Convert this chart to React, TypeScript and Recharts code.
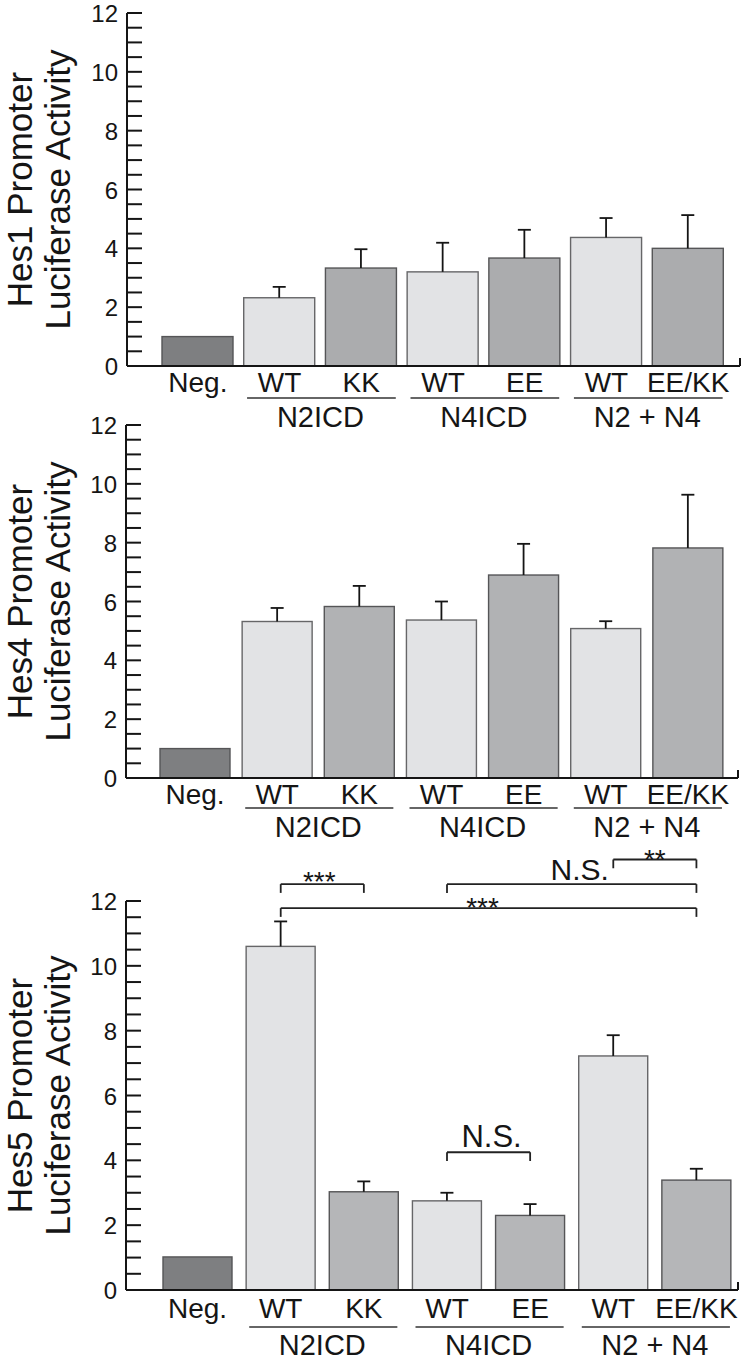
import { BarChart, Bar, XAxis, YAxis, Cell, ReferenceLine } from 'recharts'

// categories shared by all three promoter panels
const CATEGORIES = ['neg', 'n2wt', 'n2kk', 'n4wt', 'n4ee', 'n24wt', 'n24eekk']
const TICK_LABELS = ['Neg.', 'WT', 'KK', 'WT', 'EE', 'WT', 'EE/KK']
const KINDS = ['neg', 'wt', 'mut', 'wt', 'mut', 'wt', 'mut']
const GROUP_LABELS = ['N2ICD', 'N4ICD', 'N2 + N4']
const GROUP_FIRST = [1, 3, 5]
const Y_TICKS = [0, 0.5, 1, 1.5, 2, 2.5, 3, 3.5, 4, 4.5, 5, 5.5, 6, 6.5, 7, 7.5, 8, 8.5, 9, 9.5, 10, 10.5, 11, 11.5, 12]

const HES1_MEAN = [1, 2.32, 3.33, 3.2, 3.67, 4.37, 4.0]
const HES1_ERR = [0, 0.37, 0.64, 0.99, 0.96, 0.66, 1.13]

const HES4_MEAN = [1, 5.32, 5.83, 5.37, 6.9, 5.08, 7.82]
const HES4_ERR = [0, 0.46, 0.7, 0.63, 1.06, 0.25, 1.81]

const HES5_MEAN = [1.02, 10.6, 3.03, 2.75, 2.3, 7.22, 3.39]
const HES5_ERR = [0, 0.77, 0.32, 0.25, 0.35, 0.64, 0.35]

// significance brackets on the Hes5 panel
const HES5_BRACKET_FROM = ['n2wt', 'n2wt', 'n4wt', 'n24wt', 'n4wt']
const HES5_BRACKET_TO = ['n2kk', 'n24eekk', 'n24eekk', 'n24eekk', 'n4ee']
const HES5_BRACKET_Y = [12.52, 11.78, 12.52, 13.28, 4.25]
const HES5_BRACKET_TEXT = ['***', '***', 'N.S.', '**', 'N.S.']

const BRACKET_LABEL_STYLE = [
  { dx: -3, dy: 7, size: 28 },
  { dx: -6, dy: 9, size: 28 },
  { dx: 8, dy: -4, size: 30 },
  { dx: 0, dy: 9, size: 28 },
  { dx: 3, dy: -5, size: 31 },
]
const BRACKET_DROP = 0.27

const CHART_W = 742
const INK = '#151515'
const FONT = '"Liberation Sans", Arial, Helvetica, sans-serif'

type Panel = {
  id: string
  top: number
  height: number
  marginTop: number
  marginRight: number
  yAxisWidth: number
  padLeft: number
  padRight: number
  barSize: number
  xAxisHeight: number
  labelDy: number
  underDy: number
  groupDy: number
  mutFill: string
  yTitle: string[]
  means: number[]
  errs: number[]
  brackets: boolean
}

const PANELS: Panel[] = [
  {
    id: 'hes1', top: 0, height: 440, marginTop: 13, marginRight: 2, yAxisWidth: 127,
    padLeft: 30, padRight: 11, barSize: 71, xAxisHeight: 74,
    labelDy: 16, underDy: 32, groupDy: 51, mutFill: '#abacae',
    yTitle: ['Hes1 Promoter', 'Luciferase Activity'], means: HES1_MEAN, errs: HES1_ERR, brackets: false,
  },
  {
    id: 'hes4', top: 400, height: 442, marginTop: 25, marginRight: 4, yAxisWidth: 126,
    padLeft: 28, padRight: 9, barSize: 70, xAxisHeight: 64,
    labelDy: 16, underDy: 30, groupDy: 49, mutFill: '#b1b2b4',
    yTitle: ['Hes4 Promoter', 'Luciferase Activity'], means: HES4_MEAN, errs: HES4_ERR, brackets: false,
  },
  {
    id: 'hes5', top: 835, height: 525, marginTop: 66, marginRight: 4, yAxisWidth: 126,
    padLeft: 30, padRight: 0, barSize: 69, xAxisHeight: 70,
    labelDy: 18, underDy: 37, groupDy: 55, mutFill: '#b5b6b8',
    yTitle: ['Hes5 Promoter', 'Luciferase Activity'], means: HES5_MEAN, errs: HES5_ERR, brackets: true,
  },
]

const fillFor = (kind: string, p: Panel) =>
  kind === 'neg' ? '#7e7f81' : kind === 'wt' ? '#e2e3e5' : p.mutFill
const strokeFor = (kind: string) => (kind === 'wt' ? '#666668' : '#555557')

const YTick = (props: any) => {
  const { x, y, payload } = props
  const v = payload.value
  return (
    <g>
      <line x1={x} x2={x + 15} y1={y} y2={y} stroke={INK} strokeWidth={2} />
      {v % 2 === 0 && (
        <text x={x - 9} y={y} dy="0.38em" textAnchor="end" fontSize={24} fill={INK} fontFamily={FONT}>
          {v}
        </text>
      )}
    </g>
  )
}

const makeXTick = (p: Panel) => (props: any) => {
  const { x, y, index } = props
  const pitch = (CHART_W - p.marginRight - p.yAxisWidth - p.padLeft - p.padRight) / CATEGORIES.length
  const g = GROUP_FIRST.indexOf(index)
  const half = p.barSize / 2
  return (
    <g>
      <text x={x} y={y + p.labelDy} dy="0.36em" textAnchor="middle" fontSize={28} fill={INK} fontFamily={FONT}>
        {TICK_LABELS[index]}
      </text>
      {g >= 0 && (
        <g>
          <line
            x1={x - half + 3}
            x2={x + pitch + half - 1}
            y1={y + p.underDy}
            y2={y + p.underDy}
            stroke="#333"
            strokeWidth={1.7}
          />
          <text
            x={x + pitch / 2}
            y={y + p.groupDy}
            dy="0.36em"
            textAnchor="middle"
            fontSize={29}
            fill={INK}
            fontFamily={FONT}
          >
            {GROUP_LABELS[g]}
          </text>
        </g>
      )}
      {index === CATEGORIES.length - 1 && (
        <line
          x1={x + pitch / 2 + p.padRight}
          x2={x + pitch / 2 + p.padRight}
          y1={y}
          y2={y - 8}
          stroke={INK}
          strokeWidth={2}
        />
      )}
    </g>
  )
}

const makeYTitle = (lines: string[]) => (props: any) => {
  const vb = props.viewBox
  const cy = vb.y + vb.height / 2
  return (
    <g>
      <text transform={`translate(32, ${cy}) rotate(-90)`} textAnchor="middle" fontSize={35} fill={INK} fontFamily={FONT}>
        {lines[0]}
      </text>
      <text transform={`translate(70, ${cy}) rotate(-90)`} textAnchor="middle" fontSize={35} fill={INK} fontFamily={FONT}>
        {lines[1]}
      </text>
    </g>
  )
}

// bar plus an upward-only SD whisker; the whisker length uses the bar's own px-per-unit
const BarWithWhisker = (props: any) => {
  const { x, y, width, height, fill, stroke, payload } = props
  const e = payload.err
  const pxPerUnit = payload.mean > 0 ? height / payload.mean : 0
  const cx = x + width / 2
  const top = y - e * pxPerUnit
  return (
    <g>
      <rect x={x} y={y} width={width} height={height} fill={fill} stroke={stroke} strokeWidth={1.4} />
      {e > 0 && (
        <g stroke={INK} strokeWidth={1.8}>
          <line x1={cx} x2={cx} y1={y} y2={top} />
          <line x1={cx - 6.5} x2={cx + 6.5} y1={top} y2={top} />
        </g>
      )}
    </g>
  )
}

const makeBracketLabel = (text: string, i: number) => (props: any) => {
  const vb = props.viewBox
  const s = BRACKET_LABEL_STYLE[i]
  return (
    <text
      x={vb.x + vb.width / 2 + s.dx}
      y={vb.y + s.dy}
      textAnchor="middle"
      fontSize={s.size}
      fill={INK}
      fontFamily={FONT}
    >
      {text}
    </text>
  )
}

const renderBrackets = () =>
  HES5_BRACKET_TEXT.flatMap((text, i) => {
    const from = HES5_BRACKET_FROM[i]
    const to = HES5_BRACKET_TO[i]
    const yv = HES5_BRACKET_Y[i]
    const common = { stroke: '#222', strokeWidth: 1.8, ifOverflow: 'visible' as const }
    return [
      <ReferenceLine
        key={`h${i}`}
        segment={[{ x: from, y: yv }, { x: to, y: yv }]}
        {...common}
        label={makeBracketLabel(text, i)}
      />,
      <ReferenceLine key={`l${i}`} segment={[{ x: from, y: yv }, { x: from, y: yv - BRACKET_DROP }]} {...common} />,
      <ReferenceLine key={`r${i}`} segment={[{ x: to, y: yv }, { x: to, y: yv - BRACKET_DROP }]} {...common} />,
    ]
  })

function PanelChart({ p }: { p: Panel }) {
  const data = CATEGORIES.map((key, i) => ({
    key,
    kind: KINDS[i],
    mean: p.means[i],
    err: p.errs[i],
  }))
  return (
    <div style={{ position: 'absolute', left: 0, top: p.top }}>
      <BarChart
        width={CHART_W}
        height={p.height}
        data={data}
        margin={{ top: p.marginTop, right: p.marginRight, bottom: 0, left: 0 }}
      >
        <XAxis
          dataKey="key"
          type="category"
          interval={0}
          height={p.xAxisHeight}
          padding={{ left: p.padLeft, right: p.padRight }}
          tickSize={0}
          tickMargin={0}
          tickLine={false}
          axisLine={{ stroke: INK, strokeWidth: 2 }}
          tick={makeXTick(p)}
        />
        <YAxis
          type="number"
          domain={[0, 12]}
          ticks={Y_TICKS}
          interval={0}
          width={p.yAxisWidth}
          tickSize={0}
          tickMargin={0}
          tickLine={false}
          axisLine={{ stroke: INK, strokeWidth: 2 }}
          tick={YTick}
          label={makeYTitle(p.yTitle)}
        />
        <Bar dataKey="mean" barSize={p.barSize} isAnimationActive={false} shape={BarWithWhisker}>
          {data.map((d) => (
            <Cell key={d.key} fill={fillFor(d.kind, p)} stroke={strokeFor(d.kind)} />
          ))}
        </Bar>
        {p.brackets && renderBrackets()}
      </BarChart>
    </div>
  )
}

export default function App() {
  return (
    <div
      style={{
        position: 'absolute',
        left: 0,
        top: 0,
        width: CHART_W,
        height: 1360,
        background: '#ffffff',
        fontFamily: FONT,
      }}
    >
      {PANELS.map((p) => (
        <PanelChart key={p.id} p={p} />
      ))}
    </div>
  )
}
